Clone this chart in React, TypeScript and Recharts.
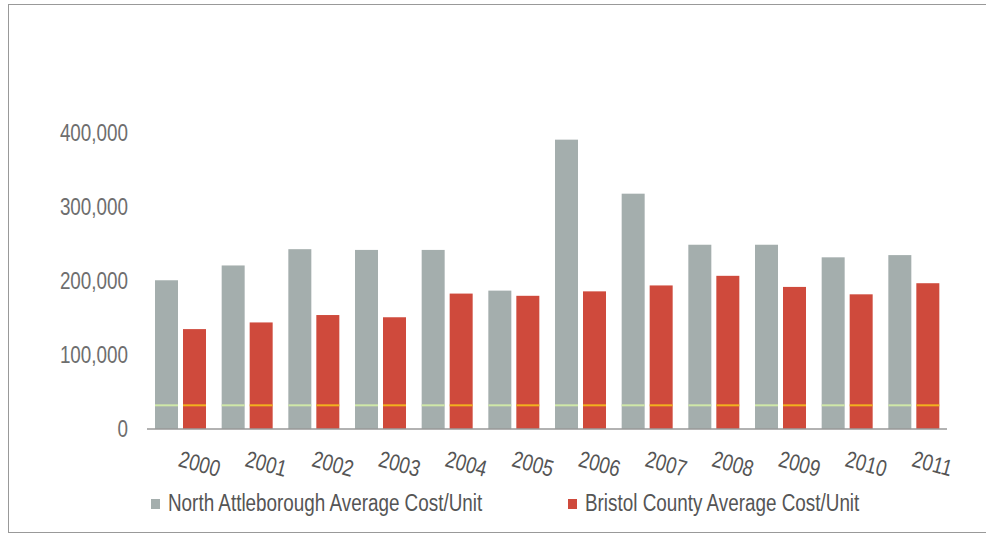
import { Bar, BarChart, Legend, XAxis, YAxis } from "recharts";

const years = [
  "2000", "2001", "2002", "2003", "2004", "2005",
  "2006", "2007", "2008", "2009", "2010", "2011",
];
const northAttleborough = [
  201000, 221000, 243000, 242000, 242000, 187000,
  391000, 318000, 249000, 249000, 232000, 235000,
];
const bristolCounty = [
  135000, 144000, 154000, 151000, 183000, 180000,
  186000, 194000, 207000, 192000, 182000, 197000,
];
const yTicks = [0, 100000, 200000, 300000, 400000];
// faint horizontal stripe that runs through every bar
const stripeValue = 32000;

const seriesNames = {
  north: "North Attleborough Average Cost/Unit",
  bristol: "Bristol County Average Cost/Unit",
};

const GRAY = "#a4aead";
const RED = "#cf4a3c";
const FONT = '"Liberation Sans", Arial, sans-serif';
// no narrow face installed, so squeeze the regular one
const NARROW = 0.82;

const data = years.map((year, i) => ({
  year,
  north: northAttleborough[i],
  bristol: bristolCounty[i],
}));

function stripedBar(fill: string, stripe: string) {
  return (props: any) => {
    const { x, y, width, height, value } = props;
    const v = Array.isArray(value) ? value[1] : value;
    const sy = y + height * (1 - stripeValue / v);
    return (
      <g>
        <rect x={x} y={y} width={width} height={height} fill={fill} />
        <line x1={x} x2={x + width} y1={sy} y2={sy} stroke={stripe} strokeWidth={2} />
      </g>
    );
  };
}

function YearTick({ x, y, payload }: any) {
  return (
    <g transform={`translate(${x - 3},${y + 29})`}>
      <text
        transform={`rotate(15) scale(${NARROW},1)`}
        textAnchor="start"
        fill="#555"
        fontSize={23}
        fontFamily={FONT}
      >
        {payload.value}
      </text>
    </g>
  );
}

function ValueTick({ x, y, payload }: any) {
  return (
    <g transform={`translate(${x},${y})`}>
      <text
        transform={`scale(${NARROW},1)`}
        textAnchor="end"
        dy="0.36em"
        fill="#6e6e6e"
        fontSize={23}
        fontFamily={FONT}
      >
        {payload.value.toLocaleString("en-US")}
      </text>
    </g>
  );
}

function LegendBox() {
  const items = [
    { name: seriesNames.north, color: GRAY, left: 142 },
    { name: seriesNames.bristol, color: RED, left: 559 },
  ];
  return (
    <div style={{ position: "relative", width: 977, height: 48 }}>
      {items.map((it) => (
        <div key={it.name}>
          <span
            style={{
              position: "absolute",
              left: it.left,
              top: 15,
              width: 9,
              height: 10,
              background: it.color,
            }}
          />
          <span
            style={{
              position: "absolute",
              left: it.left + 17,
              top: 8,
              lineHeight: "23px",
              fontSize: 23,
              fontFamily: FONT,
              color: "#555",
              whiteSpace: "nowrap",
              transform: `scaleX(${NARROW})`,
              transformOrigin: "0 0",
            }}
          >
            {it.name}
          </span>
        </div>
      ))}
    </div>
  );
}

export default function App() {
  return (
    <div
      style={{
        position: "absolute",
        top: 4,
        left: 8,
        width: 977,
        height: 527,
        borderTop: "1px solid #999",
        borderLeft: "1px solid #999",
        borderBottom: "1px solid #999",
        background: "#fff",
      }}
    >
      <BarChart
        width={977}
        height={527}
        data={data}
        margin={{ top: 128, right: 39, left: 0, bottom: 0 }}
        barSize={23}
        barGap={5}
      >
        <XAxis
          dataKey="year"
          height={55}
          tickLine={false}
          axisLine={{ stroke: "#999", strokeWidth: 1.5 }}
          tick={<YearTick />}
          interval={0}
        />
        <YAxis
          width={138}
          domain={[0, 400000]}
          ticks={yTicks}
          axisLine={false}
          tickLine={false}
          tickMargin={13}
          tick={<ValueTick />}
        />
        <Legend
          verticalAlign="bottom"
          content={<LegendBox />}
          wrapperStyle={{ left: 0, bottom: 0, width: 977, height: 48 }}
        />
        <Bar
          dataKey="north"
          name={seriesNames.north}
          fill={GRAY}
          shape={stripedBar(GRAY, "#cfe8a8")}
          isAnimationActive={false}
        />
        <Bar
          dataKey="bristol"
          name={seriesNames.bristol}
          fill={RED}
          shape={stripedBar(RED, "#f2b11e")}
          isAnimationActive={false}
        />
      </BarChart>
    </div>
  );
}
